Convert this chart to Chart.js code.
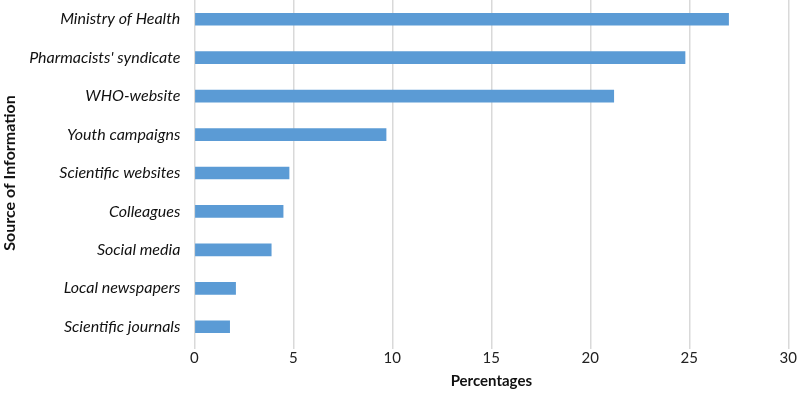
<!DOCTYPE html>
<html>
<head>
<meta charset="utf-8">
<script src="https://cdn.jsdelivr.net/npm/chart.js@4/dist/chart.umd.min.js"></script>
<style>
  html, body { margin: 0; padding: 0; background: #fff; }
  #wrap { width: 797px; height: 393px; }
</style>
</head>
<body>
<div id="wrap"><canvas id="chart"></canvas></div>
<script>
// Data
const sources = ['Ministry of Health', "Pharmacists' syndicate", 'WHO-website', 'Youth campaigns',
  'Scientific websites', 'Colleagues', 'Social media', 'Local newspapers', 'Scientific journals'];
const percentages = [27.0, 24.8, 21.2, 9.7, 4.8, 4.5, 3.9, 2.1, 1.8];
const xTicks = [0, 5, 10, 15, 20, 25, 30];

const fontFam = "Lato, 'Open Sans', sans-serif";

new Chart(document.getElementById('chart').getContext('2d'), {
  type: 'bar',
  data: {
    labels: sources,
    datasets: [{
      data: percentages,
      backgroundColor: '#5b9bd5',
      barPercentage: 0.33,
      categoryPercentage: 1.0
    }]
  },
  options: {
    indexAxis: 'y',
    responsive: true,
    maintainAspectRatio: false,
    animation: false,
    layout: { padding: { top: 0, right: 7, bottom: 3, left: 0 } },
    plugins: { legend: { display: false }, tooltip: { enabled: false } },
    scales: {
      x: {
        min: xTicks[0],
        max: xTicks[xTicks.length - 1],
        afterBuildTicks: axis => { axis.ticks = xTicks.map(v => ({ value: v })); },
        grid: { color: '#d9d9d9', lineWidth: 1.5, drawTicks: true, tickLength: 3 },
        border: { display: false },
        ticks: { color: '#222', padding: 0, font: { family: fontFam, size: 15 } },
        title: {
          display: true, text: 'Percentages', color: '#111',
          padding: { top: 5, bottom: 0 },
          font: { family: fontFam, size: 15, weight: 'bold' }
        }
      },
      y: {
        // let the plot reach the top edge like the reference
        afterFit: s => { s.paddingTop = 0; s.paddingBottom = 0; },
        grid: { display: false },
        border: { display: false },
        ticks: { color: '#111', padding: 6, font: { family: fontFam, size: 16, style: 'italic' } },
        title: {
          display: true, text: 'Source of Information', color: '#111',
          padding: { top: 0, bottom: 4 },
          font: { family: fontFam, size: 16, weight: 'bold' }
        }
      }
    }
  }
});
</script>
</body>
</html>
